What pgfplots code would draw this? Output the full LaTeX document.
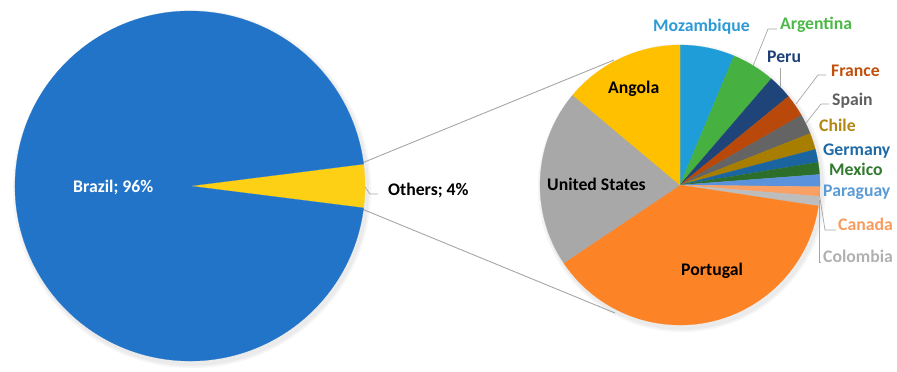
\documentclass[border=0pt]{standalone}
\usepackage{pgfplots}
\pgfplotsset{compat=1.18}
\usepackage{pgfplotstable}
\usepackage{fontspec}
\setmainfont{Carlito}

\definecolor{cBrazil}{HTML}{2274C8}
\definecolor{cOthers}{HTML}{FDD016}
\definecolor{cMoz}{HTML}{1F9DD9}
\definecolor{cArg}{HTML}{46B040}
\definecolor{cPeru}{HTML}{1E4479}
\definecolor{cFra}{HTML}{B8490A}
\definecolor{cSpa}{HTML}{646464}
\definecolor{cChi}{HTML}{A87E00}
\definecolor{cGer}{HTML}{1A659F}
\definecolor{cMex}{HTML}{2D6E2A}
\definecolor{cPar}{HTML}{5A93DB}
\definecolor{cCan}{HTML}{F9A064}
\definecolor{cCol}{HTML}{BDBDBD}
\definecolor{cPor}{HTML}{FD8327}
\definecolor{cUSA}{HTML}{A8A8A8}
\definecolor{cAng}{HTML}{FFC000}
% label text colours
\definecolor{tMoz}{HTML}{2E9BD6}
\definecolor{tArg}{HTML}{4CB848}
\definecolor{tPeru}{HTML}{1F3F77}
\definecolor{tFra}{HTML}{C0500A}
\definecolor{tSpa}{HTML}{5F5F5F}
\definecolor{tChi}{HTML}{B38614}
\definecolor{tGer}{HTML}{1F6AA5}
\definecolor{tMex}{HTML}{317A2E}
\definecolor{tPar}{HTML}{5B9BD5}
\definecolor{tCan}{HTML}{F79B5E}
\definecolor{tCol}{HTML}{B0B0B0}
\definecolor{leader}{HTML}{A6A6A6}

\tikzset{lab/.style={font=\fontsize{17.7}{20}\selectfont\bfseries, inner sep=0pt, anchor=base west}}

% main pie (percent)
\pgfplotstableread[col sep=comma]{
name,value,col
Others,4,cOthers
Brazil,96,cBrazil
}\bigpie

% breakdown of "Others" (percent of Others), clockwise from 12 o'clock
\pgfplotstableread[col sep=comma]{
name,value,col
Mozambique,6.3,cMoz
Argentina,5.0,cArg
Peru,2.8,cPeru
France,2.6,cFra
Spain,2.3,cSpa
Chile,1.9,cChi
Germany,1.5,cGer
Mexico,1.4,cMex
Paraguay,1.4,cPar
Canada,1.1,cCan
Colombia,1.1,cCol
Portugal,38.2,cPor
United States,20.5,cUSA
Angola,13.9,cAng
}\smallpie

% #1 table, #2 cx, #3 cy, #4 radius (pt), #5 start angle
\newcommand\drawpie[5]{%
  \pgfplotstablegetrowsof{#1}%
  \pgfmathtruncatemacro\pielast{\pgfplotsretval-1}%
  \def\piecum{#5}%
  \pgfplotsforeachungrouped \pieidx in {0,...,\pielast}{%
    \pgfplotstablegetelem{\pieidx}{value}\of{#1}\let\pieval\pgfplotsretval
    \pgfplotstablegetelem{\pieidx}{col}\of{#1}\let\piecol\pgfplotsretval
    \pgfmathsetmacro\pieend{\piecum-3.6*\pieval}%
    \edef\pietemp{\noexpand\addplot[fill=\piecol,draw=\piecol,line width=0.2pt] coordinates {(#2,#3)} -- ++(\piecum:#4pt) arc[start angle=\piecum,end angle=\pieend,radius=#4pt] -- cycle;}%
    \pietemp
    \let\piecum\pieend
  }%
}

\begin{document}
\begin{tikzpicture}
\begin{axis}[
  x=1pt, y=1pt, y dir=reverse,
  xmin=0, xmax=897, ymin=0, ymax=362,
  hide axis, clip=false,
]
\path (0,0) rectangle (897,362);
% soft shadows
\addplot[fill=black, fill opacity=0.04, draw=none] coordinates {(192,189)} circle[radius=179pt];
\addplot[fill=black, fill opacity=0.04, draw=none] coordinates {(192,189)} circle[radius=177pt];
\addplot[fill=black, fill opacity=0.04, draw=none] coordinates {(682,188)} circle[radius=144pt];
\addplot[fill=black, fill opacity=0.04, draw=none] coordinates {(682,188)} circle[radius=142pt];
% connector lines
\addplot[leader, line width=0.9pt] coordinates {(362,163) (614,60)};
\addplot[leader, line width=0.9pt] coordinates {(362,209) (615,313)};
% pies
\drawpie{\bigpie}{190}{186}{175}{7.2}
\drawpie{\smallpie}{680}{185}{140}{90}
% leader lines
\addplot[leader, line width=0.7pt] coordinates {(365,187) (370,194) (378,194)};
\addplot[leader, line width=0.7pt] coordinates {(753,66) (768,29) (777,29)};
\addplot[leader, line width=0.7pt] coordinates {(780,87) (780,68)};
\addplot[leader, line width=0.7pt] coordinates {(796,104) (818,75) (826,75)};
\addplot[leader, line width=0.7pt] coordinates {(806,123) (821,104) (829,104)};
\addplot[leader, line width=0.7pt] coordinates {(819,192) (825,230) (836,230)};
\addplot[leader, line width=0.7pt] coordinates {(819,200) (819,262) (821,262)};
% labels
\node[lab, text=white] at (73,192.7) {Brazil; 96\%};
\node[lab] at (388,195.7) {Others; 4\%};
\node[lab] at (608,93.3) {Angola};
\node[lab] at (547,190) {United States};
\node[lab] at (681,275) {Portugal};
\node[lab, text=tMoz] at (653,31) {Mozambique};
\node[lab, text=tArg] at (780,29.3) {Argentina};
\node[lab, text=tPeru] at (767,62.7) {Peru};
\node[lab, text=tFra] at (831,76.7) {France};
\node[lab, text=tSpa] at (832,105.3) {Spain};
\node[lab, text=tChi] at (819,131) {Chile};
\node[lab, text=tGer] at (823,155) {Germany};
\node[lab, text=tMex] at (829,175) {Mexico};
\node[lab, text=tPar] at (823,196) {Paraguay};
\node[lab, text=tCan] at (838,230.7) {Canada};
\node[lab, text=tCol] at (823,262.7) {Colombia};
\end{axis}
\end{tikzpicture}
\end{document}
